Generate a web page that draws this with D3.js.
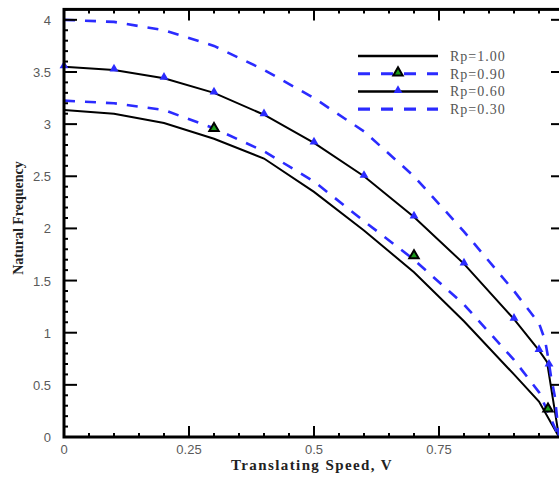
<!DOCTYPE html>
<html>
<head>
<meta charset="utf-8">
<script src="https://cdn.jsdelivr.net/npm/d3@7"></script>
<style>
  body { margin: 0; background: #fff; }
  svg { display: block; }
</style>
</head>
<body>
<div class="chart"></div>
<script>
const width = 559, height = 477;

// data
const speedA = [0, 0.1, 0.2, 0.3, 0.4, 0.5, 0.6, 0.7, 0.8, 0.9, 0.95, 0.99];
const rp100 = [3.135, 3.10, 3.01, 2.86, 2.67, 2.35, 1.98, 1.58, 1.11, 0.60, 0.34, 0];
const rp090 = [3.225, 3.20, 3.135, 2.96, 2.74, 2.45, 2.07, 1.70, 1.27, 0.74, 0.43, 0];
const speedB = [0, 0.1, 0.2, 0.3, 0.4, 0.5, 0.6, 0.7, 0.8, 0.9, 0.95, 0.966, 0.99];
const rp060 = [3.55, 3.52, 3.44, 3.30, 3.09, 2.82, 2.50, 2.11, 1.66, 1.13, 0.83, 0.72, 0];
const speedC = [0, 0.1, 0.2, 0.3, 0.4, 0.5, 0.6, 0.7, 0.8, 0.9, 0.95, 0.962, 0.968, 0.974, 0.982, 0.99];
const rp030 = [4.0, 3.98, 3.90, 3.75, 3.52, 3.25, 2.93, 2.50, 1.97, 1.40, 1.09, 0.93, 0.77, 0.58, 0.38, 0];

const marks090 = [[0.3, 2.95], [0.7, 1.73], [0.968, 0.26]];
const marks060 = [[0, 3.55], [0.1, 3.52], [0.2, 3.44], [0.3, 3.30], [0.4, 3.09], [0.5, 2.82],
                  [0.6, 2.50], [0.7, 2.11], [0.8, 1.66], [0.9, 1.13], [0.95, 0.83], [0.97, 0.69]];

const legendNames = ["Rp=1.00", "Rp=0.90", "Rp=0.60", "Rp=0.30"];
const xTicks = [0, 0.25, 0.5, 0.75];
const yTicks = [0, 0.5, 1, 1.5, 2, 2.5, 3, 3.5, 4];

const blue = "#2b2bff";

const svg = d3.select(".chart")
    .append("svg")
    .attr("width", width)
    .attr("height", height);

const x = d3.scaleLinear().domain([0, 1]).range([64, 564]);
const y = d3.scaleLinear().domain([0, 4.1]).range([437, 9.4]);

const line = d3.line()
    .x(d => x(d[0]))
    .y(d => y(d[1]));

const series = [
    {xs: speedA, ys: rp100, color: "#000", width: 2, dash: null},
    {xs: speedA, ys: rp090, color: blue, width: 2.6, dash: "11,10"},
    {xs: speedB, ys: rp060, color: "#000", width: 2, dash: null},
    {xs: speedC, ys: rp030, color: blue, width: 2.6, dash: "11,10"}
];

svg.selectAll("path.curve")
    .data(series)
    .join("path")
    .attr("class", "curve")
    .attr("d", s => line(s.xs.map((v, i) => [v, s.ys[i]])))
    .attr("fill", "none")
    .attr("stroke", s => s.color)
    .attr("stroke-width", s => s.width)
    .attr("stroke-dasharray", s => s.dash);

const tri = d3.symbol().type(d3.symbolTriangle);

svg.selectAll("path.m60")
    .data(marks060)
    .join("path")
    .attr("class", "m60")
    .attr("d", tri.size(34))
    .attr("transform", d => `translate(${x(d[0])},${y(d[1]) - 1})`)
    .attr("fill", blue);

svg.selectAll("path.m90")
    .data(marks090)
    .join("path")
    .attr("class", "m90")
    .attr("d", tri.size(38))
    .attr("transform", d => `translate(${x(d[0])},${y(d[1]) - 1})`)
    .attr("fill", "#1a9a1a")
    .attr("stroke", "#000")
    .attr("stroke-width", 2);

// axes
const axisColor = "#000";
const tickFont = "Arial, 'Liberation Sans', sans-serif";

function drawTicks(vals, isX, len, pos, dir) {
    svg.append("g").selectAll("line")
        .data(vals)
        .join("line")
        .attr("x1", d => isX ? x(d) : pos)
        .attr("x2", d => isX ? x(d) : pos + dir * len(d))
        .attr("y1", d => isX ? pos : y(d))
        .attr("y2", d => isX ? pos + dir * len(d) : y(d))
        .attr("stroke", axisColor)
        .attr("stroke-width", 2);
}

const xAll = d3.range(0, 21).map(i => i * 0.05);
const yAll = d3.range(0, 42).map(i => i * 0.1);
const isMajX = d => Math.abs(d * 4 - Math.round(d * 4)) < 1e-6;
const isMajY = d => Math.abs(d * 2 - Math.round(d * 2)) < 1e-6;

drawTicks(xAll, true, d => isMajX(d) ? 11 : 4, y(0), -1);
drawTicks(xAll, true, d => isMajX(d) ? 11 : 4, y(4.1), 1);
drawTicks(yAll, false, d => isMajY(d) ? 13 : 4, x(0), 1);
drawTicks(yAll, false, d => isMajY(d) ? 13 : 4, x(1), -1);

svg.append("rect")
    .attr("x", x(0))
    .attr("y", y(4.1))
    .attr("width", x(1) - x(0))
    .attr("height", y(0) - y(4.1))
    .attr("fill", "none")
    .attr("stroke", axisColor)
    .attr("stroke-width", 3);

svg.append("g").selectAll("text")
    .data(xTicks)
    .join("text")
    .attr("x", d => x(d))
    .attr("y", y(0) + 17)
    .attr("text-anchor", "middle")
    .attr("font-family", tickFont)
    .attr("font-size", 13)
    .attr("fill", "#5a5a5a")
    .text(d => d);

svg.append("g").selectAll("text")
    .data(yTicks)
    .join("text")
    .attr("x", x(0) - 13)
    .attr("y", d => y(d) + 5)
    .attr("text-anchor", "end")
    .attr("font-family", tickFont)
    .attr("font-size", 13)
    .attr("fill", "#5a5a5a")
    .text(d => d);

svg.append("text")
    .attr("x", 312)
    .attr("y", 470)
    .attr("text-anchor", "middle")
    .attr("font-family", "'Liberation Serif', 'Times New Roman', serif")
    .attr("font-weight", "bold")
    .attr("font-size", 15)
    .attr("letter-spacing", 1.4)
    .attr("fill", "#222")
    .text("Translating Speed, V");

svg.append("text")
    .attr("transform", "translate(23,218) rotate(-90)")
    .attr("text-anchor", "middle")
    .attr("font-family", "'Liberation Serif', 'Times New Roman', serif")
    .attr("font-weight", "bold")
    .attr("font-size", 14)
    .attr("fill", "#222")
    .text("Natural Frequency");

// legend
const legend = svg.append("g");
const rows = legend.selectAll("g")
    .data(series)
    .join("g")
    .attr("transform", (d, i) => `translate(358,${56 + i * 17.7})`);

rows.append("line")
    .attr("x1", 0)
    .attr("x2", 80)
    .attr("stroke", d => d.color)
    .attr("stroke-width", d => d.width + 0.5)
    .attr("stroke-dasharray", d => d.dash ? "12,11" : null);

rows.append("text")
    .attr("x", 92)
    .attr("y", 5)
    .attr("font-family", "'Liberation Serif', 'Times New Roman', serif")
    .attr("font-size", 14)
    .attr("letter-spacing", 1)
    .attr("fill", "#555")
    .text((d, i) => legendNames[i]);

rows.filter((d, i) => i === 1).append("path")
    .attr("d", tri.size(38))
    .attr("transform", "translate(40,-1)")
    .attr("fill", "#1a9a1a")
    .attr("stroke", "#000")
    .attr("stroke-width", 2);

rows.filter((d, i) => i === 2).append("path")
    .attr("d", tri.size(34))
    .attr("transform", "translate(40,-1)")
    .attr("fill", blue);
</script>
</body>
</html>
